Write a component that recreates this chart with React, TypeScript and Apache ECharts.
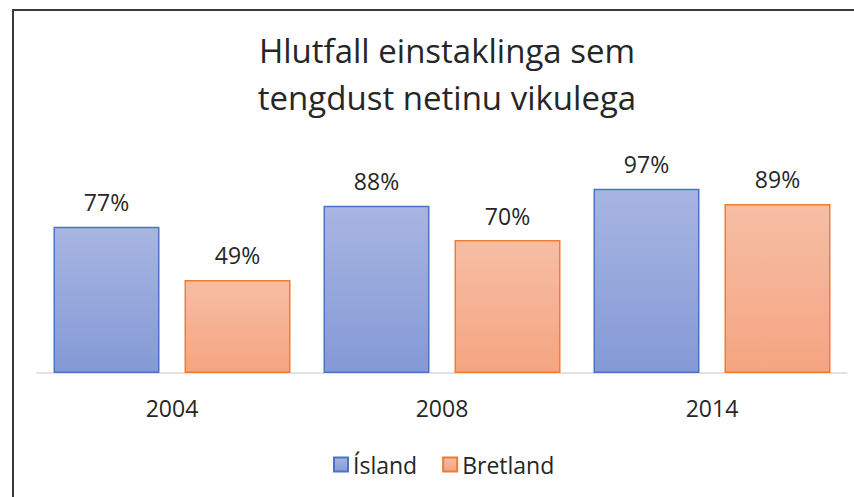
import React, { useEffect, useRef } from "react";
import * as echarts from "echarts";

const categories = ["2004", "2008", "2014"];
const islandValues = [77, 88, 97];
const bretlandValues = [49, 70, 89];
const seriesNames = ["Ísland", "Bretland"];
const titleLines = ["Hlutfall einstaklinga sem", "tengdust netinu vikulega"];

export default function App() {
  const ref = useRef<HTMLDivElement>(null);
  useEffect(() => {
    if (!ref.current) return;
    const chart = echarts.init(ref.current, null, { renderer: "svg" });
    const font = "'Open Sans', 'Noto Sans', sans-serif";
    const grad = (top: string, bottom: string) =>
      new echarts.graphic.LinearGradient(0, 0, 0, 1, [
        { offset: 0, color: top },
        { offset: 1, color: bottom },
      ]);
    const labelStyle = {
      show: true,
      position: "top",
      distance: 13,
      formatter: "{c}%",
      fontFamily: font,
      fontSize: 23,
      color: "#262626",
    };
    chart.setOption({
      animation: false,
      backgroundColor: "#ffffff",
      title: {
        text: titleLines.join("\n"),
        left: 442,
        textAlign: "center",
        top: 22,
        textStyle: {
          fontFamily: font,
          fontSize: 33,
          fontWeight: "normal",
          color: "#262626",
          lineHeight: 47,
        },
      },
      graphic: [
        {
          type: "rect",
          shape: { x: 13, y: 10, width: 900, height: 600 },
          style: { fill: "none", stroke: "#3a3a3a", lineWidth: 2 },
          silent: true,
        },
      ],
      legend: {
        bottom: 16,
        left: 328,
        icon: "rect",
        itemWidth: 14,
        itemHeight: 14,
        itemGap: 25,
        textStyle: { fontFamily: font, fontSize: 23, color: "#262626" },
        data: seriesNames,
      },
      grid: { left: 37, right: 7, top: 183, bottom: 124, containLabel: false },
      xAxis: {
        type: "category",
        data: categories,
        axisLine: { lineStyle: { color: "#d9d9d9", width: 1.5 } },
        axisTick: { show: false },
        axisLabel: {
          fontFamily: font,
          fontSize: 23,
          color: "#262626",
          margin: 23,
        },
      },
      yAxis: {
        type: "value",
        min: 0,
        max: 100,
        show: false,
        splitLine: { show: false },
      },
      series: [
        {
          name: seriesNames[0],
          type: "bar",
          data: islandValues,
          barWidth: 106,
          barGap: "23.6%",
          itemStyle: {
            color: grad("#a7b5e1", "#8499d6"),
            borderColor: "#4a74c9",
            borderWidth: 1.5,
          },
          label: labelStyle,
        },
        {
          name: seriesNames[1],
          type: "bar",
          data: bretlandValues,
          barWidth: 106,
          itemStyle: {
            color: grad("#f6bea5", "#f5a480"),
            borderColor: "#ed7d31",
            borderWidth: 1.5,
          },
          label: labelStyle,
        },
      ],
    });
    return () => chart.dispose();
  }, []);
  return (
    <div
      ref={ref}
      style={{ position: "fixed", left: 0, top: 0, width: 854, height: 497 }}
    />
  );
}
